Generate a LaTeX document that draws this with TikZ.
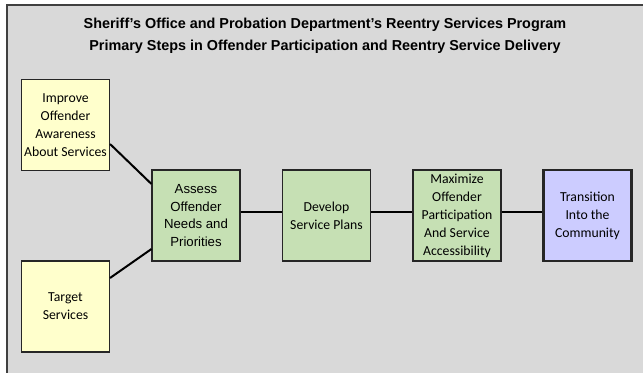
\documentclass[tikz,border=0pt]{standalone}
\usepackage{fontspec}
\setmainfont{Liberation Sans}
\newfontfamily\calibri{Carlito}
\newfontfamily\arialfont{Liberation Sans}
\usetikzlibrary{calc}
\definecolor{panelgray}{HTML}{D9D9D9}
\definecolor{noteyellow}{HTML}{FFFFCC}
\definecolor{stepgreen}{HTML}{C6E0B4}
\definecolor{goalblue}{HTML}{CCCCFF}
\begin{document}
\begin{tikzpicture}[x=0.75pt, y=-0.75pt,
		box/.style={draw=black!85, line width=0.8pt, minimum width=66pt, minimum height=68.25pt, inner sep=0pt, align=center, font=\calibri\fontsize{10.3}{13.5}\selectfont},
		link/.style={line width=1.5pt}]
	\useasboundingbox (0,0) rectangle (643,373);
	\fill[panelgray] (7,5) rectangle (643,373);
	\draw[black!75, line width=0.8pt] (7,373) -- (7,5) -- (643,5);
	\node[font=\arialfont\bfseries\fontsize{10.8}{16.8}\selectfont, anchor=base] (title1) at (325,28.3) {Sheriff’s Office and Probation Department’s Reentry Services Program};
	\node[font=\arialfont\bfseries\fontsize{10.8}{16.8}\selectfont, anchor=base] (title2) at (325,50.7) {Primary Steps in Offender Participation and Reentry Service Delivery};
	\node[box, fill=noteyellow] (improve) at (65.5,125) {Improve\\Offender\\Awareness\\About Services};
	\node[box, fill=noteyellow] (target) at (65.5,306.5) {Target\\Services};
	\node[box, fill=stepgreen, font=\arialfont\fontsize{9.9}{13.1}\selectfont] (assess) at (196,215.5) {Assess\\Offender\\Needs and\\ Priorities};
	\node[box, fill=stepgreen] (develop) at (326.5,215.5) {Develop\\Service Plans};
	\node[box, fill=stepgreen] (maximize) at (457,215.5) {Maximize\\Offender\\Participation\\And Service\\Accessibility};
	\node[box, fill=goalblue, line width=1.8pt] (transition) at (587.5,215.5) {Transition\\Into the\\Community};
	\draw[link] ($(improve.east)+(0,19)$) -- ($(assess.west)+(0,-31.5)$);
	\draw[link] ($(target.east)+(0,-28.5)$) -- ($(assess.west)+(0,33.5)$);
	\draw[link] ($(assess.east)+(0,-3)$) -- ($(develop.west)+(0,-3)$);
	\draw[link] ($(develop.east)+(0,-3)$) -- ($(maximize.west)+(0,-3)$);
	\draw[link] ($(maximize.east)+(0,-3)$) -- ($(transition.west)+(0,-3)$);
\end{tikzpicture}
\end{document}
